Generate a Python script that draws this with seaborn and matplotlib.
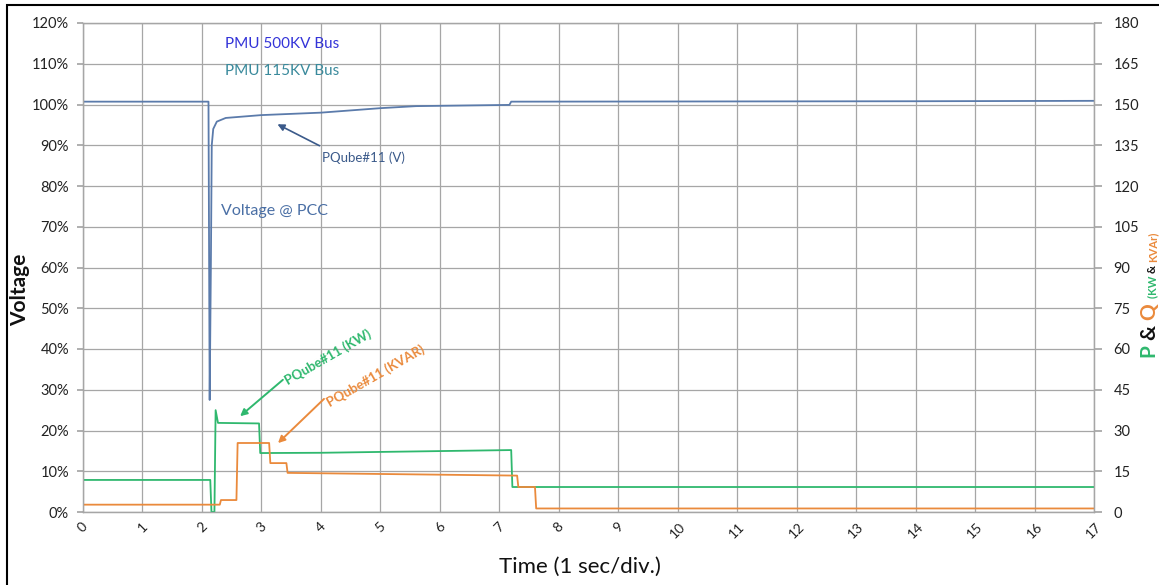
import numpy as np
import pandas as pd
import matplotlib
matplotlib.use("Agg")
import matplotlib.pyplot as plt
import seaborn as sns
from matplotlib.patches import Rectangle
from matplotlib.ticker import PercentFormatter

# ---------------- data ----------------
volt_t = [0, 2.11, 2.13, 2.15, 2.165, 2.19, 2.25, 2.4, 3.0, 4.0, 5.0, 5.6, 7.17, 7.2, 14.0, 17]
volt_v = [100.7, 100.7, 27.5, 60, 90, 94.0, 95.8, 96.7, 97.4, 98.0, 99.1, 99.6, 99.9, 100.7, 100.8, 100.9]

kw_t = [0, 2.14, 2.16, 2.21, 2.23, 2.27, 2.96, 2.98, 4.0, 7.2, 7.22, 17]
kw_v = [11.8, 11.8, 0, 0, 37.5, 32.8, 32.6, 21.7, 21.8, 22.8, 9.2, 9.2]

kvar_t = [0, 2.3, 2.32, 2.58, 2.6, 3.13, 3.15, 3.42, 3.44, 7.3, 7.32, 7.6, 7.62, 17]
kvar_v = [2.7, 2.7, 4.4, 4.4, 25.4, 25.4, 18.0, 18.0, 14.4, 13.4, 9.2, 9.2, 1.3, 1.3]

x_ticks = list(range(0, 18))
volt_ticks = list(range(0, 121, 10))
pq_ticks = list(range(0, 181, 15))

C_VOLT = "#5b7bab"
C_KW = "#2fb86e"
C_KVAR = "#ea8a3c"
C_GRID = "#a6a6a6"

sns.set_theme(style="white")
plt.rcParams['font.family'] = ['Lato', 'DejaVu Sans']

W, H = 1159, 585
fig = plt.figure(figsize=(W / 100, H / 100), dpi=100)
ax = fig.add_axes([83 / W, 1 - 512 / H, (1094 - 83) / W, (512 - 23) / H])
ax2 = ax.twinx()

df_v = pd.DataFrame({"t": volt_t, "v": volt_v})
df_kw = pd.DataFrame({"t": kw_t, "v": kw_v})
df_kvar = pd.DataFrame({"t": kvar_t, "v": kvar_v})

sns.lineplot(data=df_v, x="t", y="v", ax=ax, sort=False, estimator=None, color=C_VOLT, linewidth=1.3)
sns.lineplot(data=df_kw, x="t", y="v", ax=ax2, sort=False, estimator=None, color=C_KW, linewidth=1.3)
sns.lineplot(data=df_kvar, x="t", y="v", ax=ax2, sort=False, estimator=None, color=C_KVAR, linewidth=1.3)

ax.set_xlim(0, 17)
ax.set_ylim(0, 120)
ax2.set_ylim(0, 180)
ax.set_xticks(x_ticks)
ax.set_xticklabels([str(v) for v in x_ticks], rotation=45, ha="center", fontsize=10, color="#222222")
ax.set_yticks(volt_ticks)
ax.yaxis.set_major_formatter(PercentFormatter(decimals=0))
ax2.set_yticks(pq_ticks)
ax.tick_params(axis="y", labelsize=10.5, colors="#222222", length=4, color=C_GRID, pad=6)
ax.tick_params(axis="x", length=0, pad=6)
ax2.tick_params(axis="y", labelsize=10.5, colors="#222222", length=6, color=C_GRID, direction="out", pad=8)
for lab in ax.get_yticklabels() + ax2.get_yticklabels():
    lab.set_color("#222222")

ax.grid(True, color=C_GRID, linewidth=0.9)
ax2.grid(False)
for a in (ax, ax2):
    for s in a.spines.values():
        s.set_color(C_GRID)
        s.set_linewidth(0.9)
ax.set_xlabel("")
ax.set_ylabel("")
ax2.set_xlabel("")
ax2.set_ylabel("")

# axis labels
fig.text(580 / W, 1 - 567 / H, "Time (1 sec/div.)", ha="center", va="center", fontsize=16, color="#111111")
fig.text(20 / W, 1 - 290 / H, "Voltage", ha="center", va="center", fontsize=15, fontweight="bold", rotation=90, color="#111111")

# right label with mixed colors, stacked bottom-to-top
fig.canvas.draw()
renderer = fig.canvas.get_renderer()
parts = [("P ", C_KW, 15, "bold"), ("& ", "#111111", 15, "bold"), ("Q ", C_KVAR, 15, "bold"),
         ("(KW ", C_KW, 8, "bold"), ("& ", "#111111", 8, "bold"), ("KVAr)", C_KVAR, 8, "bold")]
xcen = 1150
y_cur = 1 - 358 / H
for txt, col, fs, fw in parts:
    xoff = 0 if fs > 10 else 3
    t = fig.text((xcen + xoff) / W, y_cur, txt, ha="center", va="bottom", rotation=90, fontsize=fs,
                 fontweight=fw, color=col)
    bb = t.get_window_extent(renderer)
    y_cur = bb.y1 / H


def px2data(px, py):
    x = (px - 83) / (1094 - 83) * 17
    y = (512 - py) / (512 - 23) * 120
    return x, y


ax.text(*px2data(225, 44), "PMU 500KV Bus", color="#3434d8", fontsize=11, va="center", ha="left")
ax.text(*px2data(225, 71), "PMU 115KV Bus", color="#3a8a9c", fontsize=11, va="center", ha="left")
ax.text(*px2data(221, 211), "Voltage @ PCC", color="#4a6fa5", fontsize=11.5, va="center", ha="left")
ax.text(*px2data(322, 158), "PQube#11 (V)", color="#3b5a8a", fontsize=9.5, va="center", ha="left")
ax.annotate("", xy=px2data(275, 123), xytext=px2data(322, 147),
            arrowprops=dict(arrowstyle="-|>", color="#3b5a8a", lw=1.2, mutation_scale=10))
ax.text(*px2data(328, 357), "PQube#11 (KW)", color=C_KW, fontsize=9.5, va="center", ha="center",
        rotation=30, fontweight="bold")
ax.annotate("", xy=px2data(238, 418), xytext=px2data(285, 378),
            arrowprops=dict(arrowstyle="-|>", color=C_KW, lw=1.4, mutation_scale=10))
ax.text(*px2data(376, 376), "PQube#11 (KVAR)", color=C_KVAR, fontsize=9.5, va="center", ha="center",
        rotation=30, fontweight="bold")
ax.annotate("", xy=px2data(276, 445), xytext=px2data(326, 397),
            arrowprops=dict(arrowstyle="-|>", color=C_KVAR, lw=1.4, mutation_scale=10))

# outer frame
fig.patches.append(Rectangle((7 / W, -0.05), 1.2, 1 - 5 / H + 0.05, transform=fig.transFigure,
                             fill=False, edgecolor="black", linewidth=1.5))

fig.savefig("out.png", dpi=100)
